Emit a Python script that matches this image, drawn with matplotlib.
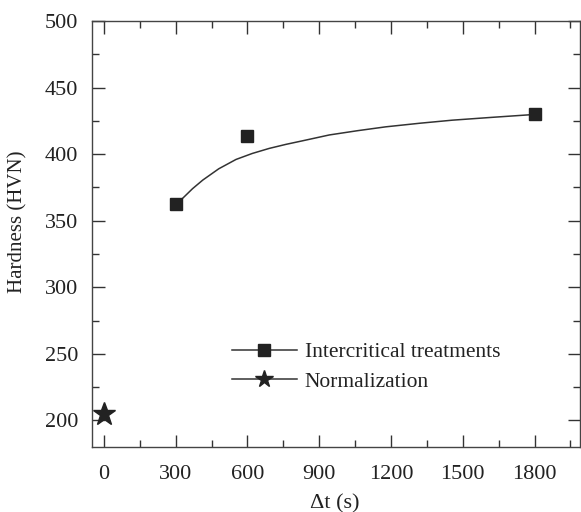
import numpy as np
import matplotlib.pyplot as plt
from matplotlib.lines import Line2D
from matplotlib.ticker import MultipleLocator

# measured points
t_inter = [300, 600, 1800]
hv_inter = [362.4, 413.5, 429.8]
t_norm = [0]
hv_norm = [204.5]

# fitted curve
t_fit = [300, 330, 370, 413, 480, 552, 620, 691, 760, 830, 942, 1060, 1178, 1320, 1456, 1620, 1800]
hv_fit = [362.0, 367.0, 374.0, 380.5, 389.0, 396.0, 400.5, 404.3, 407.3, 410.0, 414.4, 417.6, 420.5, 423.2, 425.5, 427.6, 429.8]

plt.rcParams['font.family'] = ['Liberation Serif', 'DejaVu Serif']
plt.rcParams['font.size'] = 16
plt.rcParams['mathtext.fontset'] = 'stix'

c = '#222222'
fig = plt.figure(figsize=(5.81, 5.12), dpi=100)
ax = fig.add_axes([92/581, 1-447/512, (580-92)/581, (447-21)/512])

ax.plot(t_fit, hv_fit, '-', color='#333333', lw=1.1)
ax.plot(t_inter, hv_inter, 's', color=c, ms=8.5, mec=c)
ax.plot(t_norm, hv_norm, '*', color=c, ms=17, mec=c)

ax.set_xlim(-50, 1990)
ax.set_ylim(180, 500)
ax.xaxis.set_major_locator(MultipleLocator(300))
ax.xaxis.set_minor_locator(MultipleLocator(150))
ax.yaxis.set_major_locator(MultipleLocator(50))
ax.yaxis.set_minor_locator(MultipleLocator(25))
ax.tick_params(which='both', direction='in', top=True, right=True, colors='#333333', labelcolor=c, width=1)
ax.tick_params(which='major', length=9)
ax.tick_params(axis='x', which='major', pad=13)
ax.tick_params(axis='y', which='major', pad=10)
ax.tick_params(which='minor', length=5)
for s in ax.spines.values():
    s.set_color('#444444')
    s.set_linewidth(1)

ax.set_xlabel('Δt (s)', color=c)
ax.xaxis.set_label_coords((335-92)/488, -(494-447)/426)
ax.set_ylabel('Hardness (HVN)', color=c, fontsize=15)
ax.yaxis.set_label_coords(-(92-27)/488, (447-222)/426)

hs = [Line2D([], [], color='#333333', lw=1.1, marker='s', ms=8, mfc=c, mec=c),
      Line2D([], [], color='#333333', lw=1.1, marker='*', ms=13, mfc=c, mec=c)]
ax.legend(hs, ['Intercritical treatments', 'Normalization'], loc='upper left',
          bbox_to_anchor=(232/581, 1-342/512), bbox_transform=fig.transFigure,
          frameon=False, borderpad=0, borderaxespad=0, handlelength=3.0,
          handletextpad=0.37, labelspacing=0.45, labelcolor=c, fontsize=15.5)

fig.savefig('out.png', dpi=100)
